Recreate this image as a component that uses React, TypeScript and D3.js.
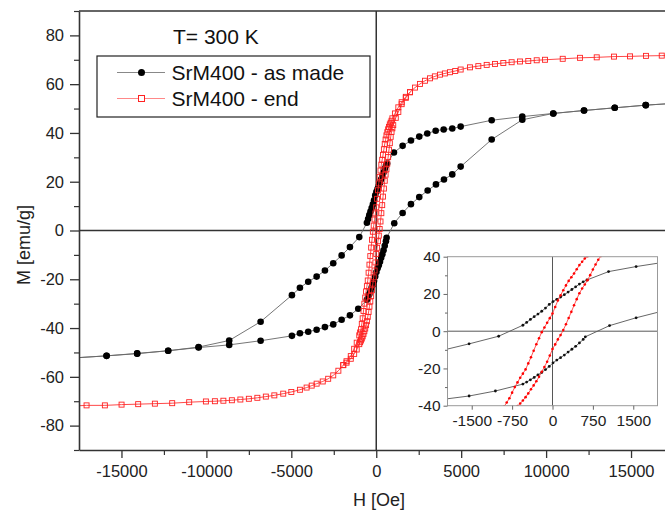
import React, { useEffect, useRef } from "react";
import * as d3 from "d3";

// SrM400 - as made : field sweep from +H down to -H
const asMadeDownH = [17700, 15866, 14040, 12232, 10424, 8598, 6796, 4970, 4476, 3970, 3498, 3003, 2532, 2043, 1553, 1042,
  640, 570, 500, 430, 360, 290, 220, 150, 80, 10, -60, -130, -200, -270, -340, -410, -480, -550,
  -1000, -1549, -2038, -2532, -3021, -3510, -4005, -4494, -4965, -6808, -8657, -10460, -12250, -14075, -15877, -17700];
const asMadeDownM = [52.2, 51.4, 50.3, 49.2, 48.0, 46.7, 45.2, 42.6, 41.8, 41.4, 40.9, 39.8, 38.5, 36.9, 34.7, 32.0,
  27.5, 26.5, 25.3, 23.8, 22.4, 21.0, 19.6, 18.3, 17.1, 15.9, 14.4, 12.4, 10.7, 9.2, 7.8, 6.3, 4.7, 3.2,
  -2.7, -6.8, -10.2, -13.4, -16.4, -18.9, -21.0, -23.5, -26.5, -37.4, -45.1, -47.8, -49.3, -50.5, -51.4, -52.2];

// SrM400 - as made : field sweep from -H back up to +H
const asMadeUpH = [-17700, -15877, -14075, -12250, -10460, -8657, -6808, -4965, -4494, -4005, -3510, -3021, -2532, -2038, -1549, -1060,
  -550, -480, -410, -340, -270, -200, -130, -60, 10, 80, 150, 220, 290, 360, 430, 500, 570, 610,
  1060, 1553, 2043, 2532, 3027, 3516, 3987, 4476, 4970, 6796, 8598, 10424, 12232, 14040, 15866, 17700];
const asMadeUpM = [-52.2, -51.4, -50.4, -49.3, -48.0, -46.9, -45.2, -43.2, -42.1, -41.5, -40.7, -39.6, -38.5, -36.6, -34.8, -32.1,
  -28.4, -27.3, -26.1, -24.8, -23.4, -22.2, -20.6, -18.9, -17.0, -15.5, -14.2, -12.8, -11.2, -9.7, -8.1, -6.3, -4.4, -3.0,
  3.0, 7.2, 10.8, 13.7, 16.4, 18.9, 20.9, 23.0, 26.2, 37.3, 45.4, 48.0, 49.2, 50.3, 51.4, 52.2];

// SrM400 - end : descending field
const endDownH = [18000, 16808, 15883, 14942, 14000, 12980, 11996, 10978, 9935,
  9446, 8950, 8463, 7970, 7481, 6990, 6502, 6010, 5518, 4970,
  4650, 4340, 4040, 3751, 3450, 3162, 2870, 2574, 2280, 1985,
  1740, 1496, 1300, 1100, 950,
  900, 850, 800, 750, 700, 650, 600, 550, 500, 450, 400, 350, 300, 250, 200, 150, 100, 50, 0,
  -50, -100, -150, -200, -250, -300, -350, -400, -450, -500, -550, -600, -650, -700, -750, -800, -850, -900,
  -950, -1000, -1150, -1300, -1500, -1750, -1943,
  -2230, -2532, -2830, -3150, -3510, -3800, -4100, -4494, -5000, -5477,
  -6000, -6500, -7000, -7500, -8000, -8500, -9000, -9500, -10029,
  -11013, -12014, -13033, -14016, -14994, -15977, -17055, -18000];
const endDownM = [72.0, 71.7, 71.6, 71.4, 71.3, 71.0, 70.8, 70.4, 70.0,
  69.8, 69.5, 69.3, 69.0, 68.7, 68.3, 67.9, 67.4, 66.9, 66.0,
  65.4, 64.9, 64.4, 63.9, 63.2, 62.4, 61.4, 60.1, 58.6, 56.7,
  54.8, 52.6, 50.5, 48.0, 46.0,
  45.0, 44.2, 43.5, 42.5, 41.5, 40.3, 39.0, 37.3, 35.5, 33.3, 31.0, 29.0, 27.0, 24.6, 22.0, 19.3, 16.5, 13.0, 9.5,
  7.0, 4.5, 2.0, -0.5, -3.8, -7.0, -10.5, -14.0, -17.3, -20.5, -22.8, -25.0, -27.5, -30.0, -33.0, -36.0, -38.3, -40.5,
  -41.8, -43.0, -46.0, -48.5, -51.5, -53.6, -55.2,
  -57.5, -59.4, -60.8, -61.9, -62.8, -63.6, -64.4, -65.3, -66.2, -66.9,
  -67.6, -68.1, -68.6, -69.0, -69.3, -69.6, -69.8, -70.0, -70.1,
  -70.4, -70.8, -71.0, -71.2, -71.4, -71.7, -71.7, -72.0];

// SrM400 - end : ascending field (only where it separates from the other branch)
const endUpH = [-1943, -1750, -1500, -1300, -1150, -1000, -950,
  -900, -850, -800, -750, -700, -650, -600, -550, -500, -450, -400, -350, -300, -250, -200, -150, -100, -50, 0,
  50, 100, 150, 200, 250, 300, 350, 400, 450, 500, 550, 600, 650, 700, 750, 800, 850, 900,
  950, 1000, 1150, 1300, 1496, 1740, 1985];
const endUpM = [-55.2, -54.2, -52.6, -50.6, -48.8, -46.6, -45.8,
  -45.1, -44.3, -43.4, -42.4, -41.3, -40.2, -38.8, -37.2, -35.4, -33.4, -31.2, -29.1, -26.9, -24.5, -21.8, -19.2, -16.4, -13.1, -9.6,
  -7.1, -4.4, -2.1, 0.6, 3.7, 7.1, 10.4, 13.9, 17.2, 20.4, 22.9, 25.1, 27.4, 30.1, 33.1, 35.8, 38.4, 40.4,
  41.9, 43.2, 46.2, 48.6, 51.8, 54.4, 56.7];

const seriesNames = ["SrM400 - as made", "SrM400 - end"];
const mainXTicks = [-15000, -10000, -5000, 0, 5000, 10000, 15000];
const mainXMinor = [-12500, -7500, -2500, 2500, 7500, 12500];
const mainYTicks = [-80, -60, -40, -20, 0, 20, 40, 60, 80];
const mainYMinor = [-90, -70, -50, -30, -10, 10, 30, 50, 70, 90];
const insetXTicks = [-1500, -750, 0, 750, 1500];
const insetYTicks = [-40, -20, 0, 20, 40];
const insetYMinor = [-30, -10, 10, 30];

const FONT = "'Liberation Sans', Arial, Helvetica, sans-serif";
const plain = (d: any) => String(d);

const pairs = (hs: number[], ms: number[]) => hs.map((h, i) => [h, ms[i]] as [number, number]);

const App = () => {
  const ref = useRef<SVGSVGElement>(null);

  useEffect(() => {
    const svg = d3.select(ref.current);
    svg.selectAll("*").remove();

    const x = d3.scaleLinear().domain([-17500, 17500]).range([79, 673.5]);
    const y = d3.scaleLinear().domain([-90, 90]).range([450, 11]);

    const defs = svg.append("defs");
    defs.append("clipPath").attr("id", "mainClip")
      .append("rect").attr("x", 79).attr("y", 11).attr("width", 594.5).attr("height", 439);

    const asMadeDown = pairs(asMadeDownH, asMadeDownM);
    const asMadeUp = pairs(asMadeUpH, asMadeUpM);
    const endDown = pairs(endDownH, endDownM);
    const endUp = pairs(endUpH, endUpM);

    // zero lines
    svg.append("line").attr("x1", 79).attr("x2", 673.5).attr("y1", y(0)).attr("y2", y(0))
      .attr("stroke", "#333").attr("stroke-width", 1.5);
    svg.append("line").attr("x1", x(0)).attr("x2", x(0)).attr("y1", 11).attr("y2", 450)
      .attr("stroke", "#333").attr("stroke-width", 1.5);

    const plot = svg.append("g").attr("clip-path", "url(#mainClip)");
    const line = d3.line<[number, number]>().x(d => x(d[0])).y(d => y(d[1]));

    // as made
    [asMadeDown, asMadeUp].forEach(data => {
      plot.append("path").datum(data).attr("d", line)
        .attr("fill", "none").attr("stroke", "#666").attr("stroke-width", 0.9);
    });
    [asMadeDown, asMadeUp].forEach(data => {
      plot.append("g").selectAll("circle").data(data).join("circle")
        .attr("cx", d => x(d[0])).attr("cy", d => y(d[1])).attr("r", 3.3).attr("fill", "#000");
    });

    // end
    [endDown, endUp].forEach(data => {
      plot.append("path").datum(data).attr("d", line)
        .attr("fill", "none").attr("stroke", "#f33").attr("stroke-width", 0.9);
    });
    [endDown, endUp].forEach(data => {
      plot.append("g").selectAll("rect").data(data).join("rect")
        .attr("x", d => x(d[0]) - 2.5).attr("y", d => y(d[1]) - 2.5)
        .attr("width", 5).attr("height", 5)
        .attr("fill", "none").attr("stroke", "#f22").attr("stroke-width", 0.9);
    });

    // frame + axes
    svg.append("line").attr("x1", 79).attr("x2", 673.5).attr("y1", 11).attr("y2", 11)
      .attr("stroke", "#333").attr("stroke-width", 1.6);

    const styleAxis = (g: any, size: number) => {
      g.attr("font-family", FONT).attr("font-size", size);
      g.select(".domain").attr("stroke", "#333").attr("stroke-width", 1.6);
      g.selectAll(".tick line").attr("stroke", "#333").attr("stroke-width", 1.3);
      g.selectAll(".tick text").attr("fill", "#222");
    };

    const yAxis = svg.append("g").attr("transform", "translate(79,0)")
      .call(d3.axisLeft(y).tickValues(mainYTicks).tickFormat(plain).tickSize(9).tickSizeOuter(0).tickPadding(6));
    styleAxis(yAxis, 16.5);
    const yMinor = svg.append("g").attr("transform", "translate(79,0)")
      .call(d3.axisLeft(y).tickValues(mainYMinor).tickSize(5).tickFormat(() => ""));
    yMinor.select(".domain").remove();
    yMinor.selectAll(".tick line").attr("stroke", "#333").attr("stroke-width", 1.2);

    const xAxis = svg.append("g").attr("transform", "translate(0,450)")
      .call(d3.axisBottom(x).tickValues(mainXTicks).tickFormat(plain).tickSize(8).tickSizeOuter(0).tickPadding(7));
    styleAxis(xAxis, 16.5);
    const xMinor = svg.append("g").attr("transform", "translate(0,450)")
      .call(d3.axisBottom(x).tickValues(mainXMinor).tickSize(5).tickFormat(() => ""));
    xMinor.select(".domain").remove();
    xMinor.selectAll(".tick line").attr("stroke", "#333").attr("stroke-width", 1.2);

    svg.append("text").attr("x", 379).attr("y", 506).attr("text-anchor", "middle")
      .attr("font-family", FONT).attr("font-size", 18).attr("fill", "#222").text("H [Oe]");
    svg.append("text").attr("transform", "translate(30,245) rotate(-90)").attr("text-anchor", "middle")
      .attr("font-family", FONT).attr("font-size", 18).attr("fill", "#222").text("M [emu/g]");

    // title + legend
    svg.append("text").attr("x", 173).attr("y", 43.5)
      .attr("font-family", FONT).attr("font-size", 21).attr("fill", "#111").text("T= 300 K");

    const legend = svg.append("g");
    legend.append("rect").attr("x", 97).attr("y", 56).attr("width", 273).attr("height", 61)
      .attr("fill", "#fff").attr("stroke", "#222").attr("stroke-width", 1.2);
    legend.append("line").attr("x1", 117).attr("x2", 165).attr("y1", 72.5).attr("y2", 72.5)
      .attr("stroke", "#888").attr("stroke-width", 1);
    legend.append("circle").attr("cx", 141.5).attr("cy", 72.5).attr("r", 3.5).attr("fill", "#000");
    legend.append("line").attr("x1", 117).attr("x2", 165).attr("y1", 98.5).attr("y2", 98.5)
      .attr("stroke", "#f88").attr("stroke-width", 1);
    legend.append("rect").attr("x", 138.5).attr("y", 95.5).attr("width", 6).attr("height", 6)
      .attr("fill", "#fff").attr("stroke", "#f22").attr("stroke-width", 1);
    seriesNames.forEach((name, i) => {
      legend.append("text").attr("x", 171.5).attr("y", 80 + i * 26)
        .attr("font-family", FONT).attr("font-size", 21).attr("fill", "#111").text(name);
    });

    // inset
    const ix = d3.scaleLinear().domain([-1950, 1950]).range([447.5, 657.5]);
    const iy = d3.scaleLinear().domain([-40, 40]).range([405.7, 256.7]);
    defs.append("clipPath").attr("id", "insetClip")
      .append("rect").attr("x", 447.5).attr("y", 256.7).attr("width", 210).attr("height", 149);

    svg.append("rect").attr("x", 447.5).attr("y", 256.7).attr("width", 210).attr("height", 149)
      .attr("fill", "#fff");
    svg.append("line").attr("x1", 447.5).attr("x2", 657.5).attr("y1", iy(0)).attr("y2", iy(0))
      .attr("stroke", "#444").attr("stroke-width", 0.9);
    svg.append("line").attr("x1", ix(0)).attr("x2", ix(0)).attr("y1", 256.7).attr("y2", 405.7)
      .attr("stroke", "#444").attr("stroke-width", 0.9);

    const inset = svg.append("g").attr("clip-path", "url(#insetClip)");
    const iline = d3.line<[number, number]>().x(d => ix(d[0])).y(d => iy(d[1]));
    [asMadeDown, asMadeUp].forEach(data => {
      inset.append("path").datum(data).attr("d", iline)
        .attr("fill", "none").attr("stroke", "#555").attr("stroke-width", 0.9);
      inset.append("g").selectAll("circle").data(data).join("circle")
        .attr("cx", d => ix(d[0])).attr("cy", d => iy(d[1])).attr("r", 1.4).attr("fill", "#111");
    });
    [endDown, endUp].forEach(data => {
      inset.append("path").datum(data).attr("d", iline)
        .attr("fill", "none").attr("stroke", "#f44").attr("stroke-width", 0.9);
      inset.append("g").selectAll("circle").data(data).join("circle")
        .attr("cx", d => ix(d[0])).attr("cy", d => iy(d[1])).attr("r", 1.3).attr("fill", "#f00");
    });

    svg.append("rect").attr("x", 447.5).attr("y", 256.7).attr("width", 210).attr("height", 149)
      .attr("fill", "none").attr("stroke", "#999").attr("stroke-width", 1);

    const iyAxis = svg.append("g").attr("transform", "translate(447.5,0)")
      .call(d3.axisLeft(iy).tickValues(insetYTicks).tickFormat(plain).tickSize(4).tickSizeOuter(0).tickPadding(3));
    iyAxis.select(".domain").remove();
    iyAxis.attr("font-family", FONT).attr("font-size", 15.5);
    iyAxis.selectAll(".tick line").attr("stroke", "#666");
    iyAxis.selectAll(".tick text").attr("fill", "#222");
    const iyMinor = svg.append("g").attr("transform", "translate(447.5,0)")
      .call(d3.axisLeft(iy).tickValues(insetYMinor).tickSize(2.5).tickFormat(() => ""));
    iyMinor.select(".domain").remove();
    iyMinor.selectAll(".tick line").attr("stroke", "#666");

    const ixAxis = svg.append("g").attr("transform", "translate(0,405.7)")
      .call(d3.axisBottom(ix).tickValues(insetXTicks).tickFormat(plain).tickSize(4).tickSizeOuter(0).tickPadding(5));
    ixAxis.select(".domain").remove();
    ixAxis.attr("font-family", FONT).attr("font-size", 15.5);
    ixAxis.selectAll(".tick line").attr("stroke", "#666");
    ixAxis.selectAll(".tick text").attr("fill", "#222");
  }, []);

  return (
    <svg
      ref={ref}
      width={665}
      height={511}
      style={{ position: "absolute", left: 0, top: 0, background: "#fff" }}
    />
  );
};

export default App;
